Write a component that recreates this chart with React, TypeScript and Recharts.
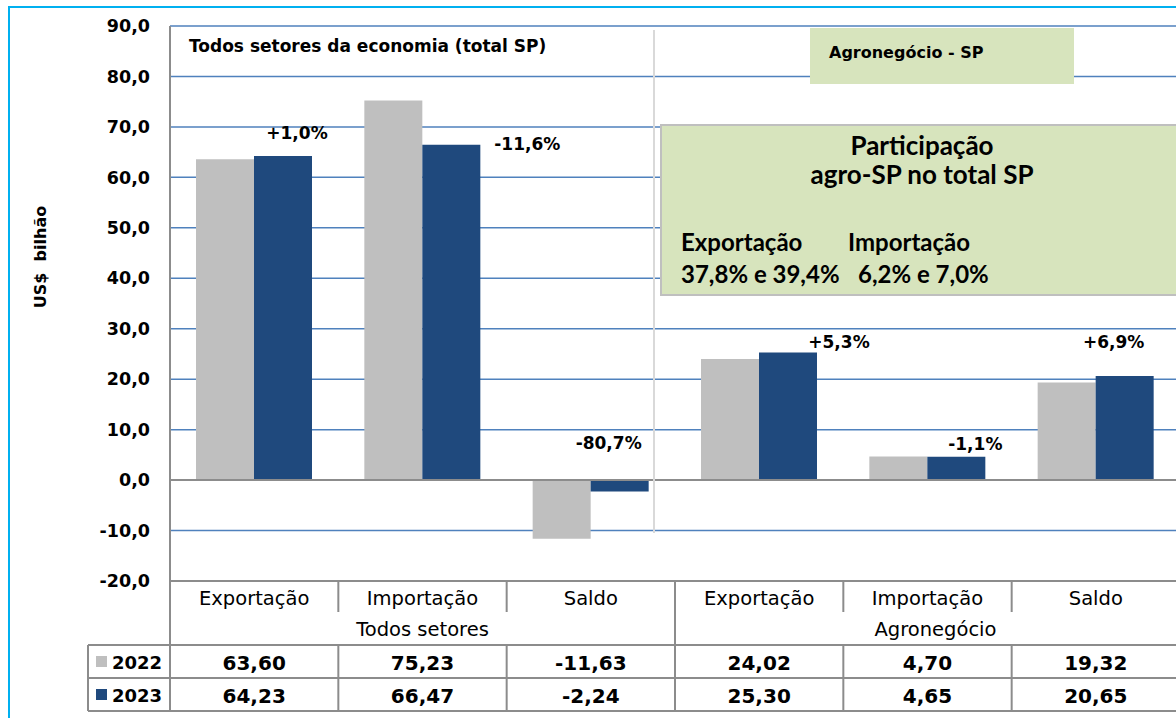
import { Bar, BarChart, CartesianGrid, LabelList, ReferenceLine, XAxis, YAxis } from "recharts";

const CATEGORIES = ["Exportação", "Importação", "Saldo", "Exportação", "Importação", "Saldo"];
const CATEGORY_GROUP = [0, 0, 0, 1, 1, 1];
const GROUPS = ["Todos setores", "Agronegócio"];
const SERIES = ["2022", "2023"];
const VALUES_2022 = [63.6, 75.23, -11.63, 24.02, 4.7, 19.32];
const VALUES_2023 = [64.23, 66.47, -2.24, 25.3, 4.65, 20.65];
const CHANGES = ["+1,0%", "-11,6%", "-80,7%", "+5,3%", "-1,1%", "+6,9%"];
const Y_TICKS = [-20, -10, 0, 10, 20, 30, 40, 50, 60, 70, 80, 90];
const SHARE_EXPORT = "37,8% e 39,4%";
const SHARE_IMPORT = "6,2% e 7,0%";

const GREY = "#bfbfbf";
const NAVY = "#1f497d";
const LINE = "#8c8c8c";
const GRID = "#4f81bd";
const GREEN = "#d7e4bd";
const FONT = "'DejaVu Sans', sans-serif";
const BOX_FONT = "Lato, sans-serif";

const W = 1180;
const H = 600;
const PLOT_LEFT = 170;
const BAND = (W - PLOT_LEFT) / CATEGORIES.length;

// where each change label sits, relative to the top centre of the 2023 bar
const CHANGE_OFFSETS = [
  [14, -23],
  [76, -1],
  [-11, -37],
  [51, -10],
  [19, -13],
  [-11, -34],
];

const HEAD_TOP = 581;
const GROUP_TOP = 613;
const ROW_TOPS = [645, 678];
const TABLE_BOTTOM = 711;
const LEGEND_LEFT = 88;

const fmt1 = (v: number) => v.toFixed(1).replace(".", ",");
const fmt2 = (v: number) => v.toFixed(2).replace(".", ",");

const data = CATEGORIES.map((name, i) => ({
  id: `${GROUPS[CATEGORY_GROUP[i]]} ${name}`,
  v2022: VALUES_2022[i],
  v2023: VALUES_2023[i],
}));

function ChangeLabel(props: any) {
  const box = props.viewBox && props.viewBox.width != null ? props.viewBox : props;
  const i = typeof props.index === "number" ? props.index : VALUES_2023.indexOf(props.value);
  if (i < 0 || i >= CHANGES.length) return null;
  const [dx, dy] = CHANGE_OFFSETS[i];
  const top = Math.min(box.y, box.y + box.height);
  return (
    <text
      x={box.x + box.width / 2 + dx}
      y={top + dy}
      textAnchor="middle"
      dominantBaseline="central"
      fill="#000"
      style={{ fontFamily: FONT, fontWeight: 700, fontSize: 17 }}
    >
      {CHANGES[i]}
    </text>
  );
}

const colX = (i: number) => PLOT_LEFT + BAND * i;

function Table() {
  const lines: JSX.Element[] = [];
  const h = (x1: number, x2: number, y: number) =>
    lines.push(<line key={`h${lines.length}`} x1={x1} x2={x2} y1={y} y2={y} stroke={LINE} strokeWidth={2} />);
  const v = (x: number, y1: number, y2: number) =>
    lines.push(<line key={`v${lines.length}`} x1={x} x2={x} y1={y1} y2={y2} stroke={LINE} strokeWidth={2} />);

  h(PLOT_LEFT, W, HEAD_TOP);
  ROW_TOPS.forEach((y) => h(LEGEND_LEFT, W, y));
  h(LEGEND_LEFT, W, TABLE_BOTTOM);
  v(PLOT_LEFT, HEAD_TOP, TABLE_BOTTOM);
  v(LEGEND_LEFT, ROW_TOPS[0], TABLE_BOTTOM);
  for (let i = 1; i < CATEGORIES.length; i++) {
    if (CATEGORY_GROUP[i] !== CATEGORY_GROUP[i - 1]) {
      v(colX(i), HEAD_TOP, TABLE_BOTTOM);
    } else {
      v(colX(i), HEAD_TOP, GROUP_TOP - 1);
      v(colX(i), ROW_TOPS[0], TABLE_BOTTOM);
    }
  }

  const rows = [VALUES_2022, VALUES_2023];
  const colors = [GREY, NAVY];
  const rowMid = (r: number) => ((ROW_TOPS[r] + (ROW_TOPS[r + 1] ?? TABLE_BOTTOM)) / 2);

  return (
    <g>
      {lines}
      {CATEGORIES.map((name, i) => (
        <text
          key={`c${i}`}
          x={colX(i) + BAND / 2}
          y={(HEAD_TOP + GROUP_TOP) / 2 + 1}
          textAnchor="middle"
          dominantBaseline="central"
          style={{ fontFamily: FONT, fontSize: 19.5 }}
        >
          {name}
        </text>
      ))}
      {GROUPS.map((g, gi) => {
        const cols = CATEGORY_GROUP.map((c, i) => (c === gi ? i : -1)).filter((i) => i >= 0);
        const mid = (colX(cols[0]) + colX(cols[cols.length - 1] + 1)) / 2;
        return (
          <text
            key={`g${gi}`}
            x={mid + gi * 8}
            y={(GROUP_TOP + ROW_TOPS[0]) / 2}
            textAnchor="middle"
            dominantBaseline="central"
            style={{ fontFamily: FONT, fontSize: 19.5 }}
          >
            {g}
          </text>
        );
      })}
      {rows.map((vals, r) => (
        <g key={`r${r}`}>
          <rect x={LEGEND_LEFT + 8} y={rowMid(r) - 5.5} width={11} height={11} fill={colors[r]} />
          <text
            x={LEGEND_LEFT + 24}
            y={rowMid(r) + 1}
            dominantBaseline="central"
            style={{ fontFamily: FONT, fontSize: 18, fontWeight: 700 }}
          >
            {SERIES[r]}
          </text>
          {vals.map((val, i) => (
            <text
              key={i}
              x={colX(i) + BAND / 2}
              y={rowMid(r) + 1}
              textAnchor="middle"
              dominantBaseline="central"
              style={{ fontFamily: FONT, fontSize: 20, fontWeight: 700 }}
            >
              {fmt2(val)}
            </text>
          ))}
        </g>
      ))}
    </g>
  );
}

export default function App() {
  return (
    <div
      style={{
        position: "absolute",
        left: 0,
        top: 0,
        width: 1176,
        height: 718,
        overflow: "hidden",
        background: "#fff",
      }}
    >
      <div style={{ position: "absolute", left: 0, top: 0 }}>
        <BarChart
          width={W}
          height={H}
          data={data}
          margin={{ top: 26, right: 0, bottom: 19, left: 0 }}
          barGap={0}
          barCategoryGap={26}
        >
          <CartesianGrid vertical={false} stroke={GRID} strokeWidth={1.5} />
          <XAxis dataKey="id" hide />
          <YAxis
            width={PLOT_LEFT}
            domain={[-20, 90]}
            ticks={Y_TICKS}
            interval={0}
            tickFormatter={fmt1}
            tickLine={false}
            tickSize={0}
            tickMargin={20}
            axisLine={{ stroke: LINE, strokeWidth: 2 }}
            tick={{ fill: "#000", fontFamily: FONT, fontWeight: 700, fontSize: 17.5 }}
          />
          <Bar dataKey="v2022" fill={GREY} isAnimationActive={false} />
          <Bar dataKey="v2023" fill={NAVY} isAnimationActive={false}>
            <LabelList dataKey="v2023" content={ChangeLabel} />
          </Bar>
          <ReferenceLine y={0} stroke={LINE} strokeWidth={2} />
          <ReferenceLine y={-20} stroke={LINE} strokeWidth={2} />
        </BarChart>
      </div>
      <svg
        width={1176}
        height={718}
        style={{ position: "absolute", left: 0, top: 0, pointerEvents: "none" }}
      >
        <rect x={9} y={7} width={1300} height={800} fill="none" stroke="#00b0f0" strokeWidth={2} />
        <line x1={654} x2={654} y1={30} y2={533} stroke="#d9d9d9" strokeWidth={2} />
        <text
          x={189}
          y={46}
          dominantBaseline="central"
          style={{ fontFamily: FONT, fontWeight: 700, fontSize: 17 }}
        >
          Todos setores da economia (total SP)
        </text>
        <rect x={810} y={28} width={264} height={56} fill={GREEN} />
        <text
          x={829}
          y={52}
          dominantBaseline="central"
          style={{ fontFamily: FONT, fontWeight: 700, fontSize: 16 }}
        >
          Agronegócio - SP
        </text>
        <rect x={661} y={125} width={600} height={170} fill={GREEN} stroke={GREY} strokeWidth={2} />
        <text x={922} y={145} textAnchor="middle" dominantBaseline="central" style={{ fontFamily: BOX_FONT, fontWeight: 700, fontSize: 26 }}>
          Participação
        </text>
        <text x={922} y={174} textAnchor="middle" dominantBaseline="central" style={{ fontFamily: BOX_FONT, fontWeight: 700, fontSize: 26 }}>
          agro-SP no total SP
        </text>
        <text x={681} y={241} dominantBaseline="central" style={{ fontFamily: BOX_FONT, fontWeight: 700, fontSize: 24 }}>
          {CATEGORIES[0]}
        </text>
        <text x={848} y={241} dominantBaseline="central" style={{ fontFamily: BOX_FONT, fontWeight: 700, fontSize: 24 }}>
          {CATEGORIES[1]}
        </text>
        <text x={681} y={273} dominantBaseline="central" style={{ fontFamily: BOX_FONT, fontWeight: 700, fontSize: 24 }}>
          {SHARE_EXPORT}
        </text>
        <text x={858} y={273} dominantBaseline="central" style={{ fontFamily: BOX_FONT, fontWeight: 700, fontSize: 24 }}>
          {SHARE_IMPORT}
        </text>
        <text
          transform="translate(40 257) rotate(-90)"
          textAnchor="middle"
          dominantBaseline="central"
          style={{ fontFamily: FONT, fontWeight: 700, fontSize: 16, whiteSpace: "pre" }}
        >
          {"US$  bilhão"}
        </text>
        <Table />
      </svg>
    </div>
  );
}
